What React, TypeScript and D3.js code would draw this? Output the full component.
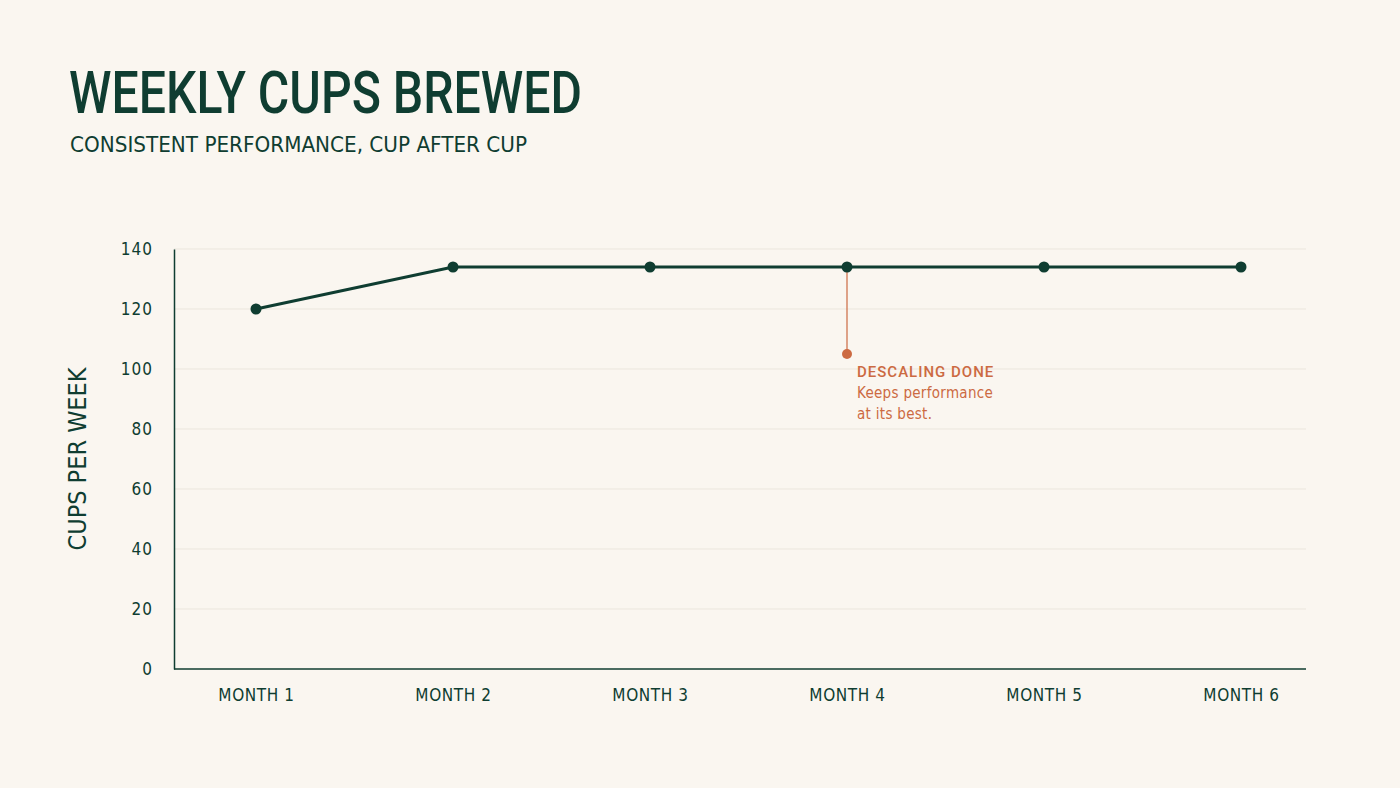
import React, { useEffect, useRef } from 'react';
import * as d3 from 'd3';

const months = ['MONTH 1', 'MONTH 2', 'MONTH 3', 'MONTH 4', 'MONTH 5', 'MONTH 6'];
const cups = [120, 134, 134, 134, 134, 134];
const yTicks = [0, 20, 40, 60, 80, 100, 120, 140];
const note = { month: 'MONTH 4', value: 105, title: 'DESCALING DONE', lines: ['Keeps performance', 'at its best.'] };

const INK = '#0f3d31';
const ACCENT = '#cc6a42';
const BG = '#faf6f0';
const FONT = "'DejaVu Sans Condensed', 'Roboto', sans-serif";
const HEAD = "'Roboto', 'DejaVu Sans Condensed', sans-serif";

const App: React.FC = () => {
  const ref = useRef<SVGSVGElement | null>(null);

  useEffect(() => {
    if (!ref.current) return;
    const W = 1400, H = 788;
    const margin = { top: 249, right: 94, bottom: 119, left: 174 };
    const width = W - margin.left - margin.right;
    const height = H - margin.top - margin.bottom;

    document.body.style.background = BG;
    const root = d3.select(ref.current);
    root.selectAll('*').remove();
    root.attr('width', W).attr('height', H)
      .style('position', 'absolute').style('left', '0').style('top', '0')
      .style('display', 'block').style('background', BG);

    root.append('text')
      .attr('x', 69).attr('y', 113)
      .attr('fill', INK)
      .attr('textLength', 513)
      .attr('lengthAdjust', 'spacingAndGlyphs')
      .style('font-family', HEAD)
      .style('font-size', '60px')
      .style('font-weight', 500)
      .text('WEEKLY CUPS BREWED');

    root.append('text')
      .attr('x', 70).attr('y', 152)
      .attr('fill', INK)
      .attr('textLength', 457)
      .attr('lengthAdjust', 'spacingAndGlyphs')
      .style('font-family', FONT)
      .style('font-size', '21px')
      .text('CONSISTENT PERFORMANCE, CUP AFTER CUP');

    const g = root.append('g').attr('transform', `translate(${margin.left},${margin.top})`);

    const x = d3.scalePoint<string>().domain(months).range([82, width - 65]);
    const y = d3.scaleLinear().domain([0, 140]).range([height, 0]);

    // grid
    g.selectAll('.grid')
      .data(yTicks.filter(d => d > 0))
      .enter().append('line')
      .attr('x1', 0).attr('x2', width)
      .attr('y1', d => y(d)).attr('y2', d => y(d))
      .attr('stroke', '#ebe6dd')
      .attr('stroke-width', 1);

    // y axis
    const yAxis = g.append('g')
      .call(d3.axisLeft(y).tickValues(yTicks).tickSize(0).tickPadding(21));
    yAxis.select('.domain').attr('stroke', INK).attr('stroke-width', 1.5);
    yAxis.selectAll('text')
      .attr('fill', INK)
      .style('font-family', FONT)
      .style('font-size', '17px')
      .style('letter-spacing', '1px');

    // x axis
    const xAxis = g.append('g')
      .attr('transform', `translate(0,${height})`)
      .call(d3.axisBottom(x).tickSize(0).tickPadding(20));
    xAxis.select('.domain').attr('d', `M0,0H${width}`).attr('stroke', INK).attr('stroke-width', 1.5);
    xAxis.selectAll('text')
      .attr('fill', INK)
      .style('font-family', FONT)
      .style('font-size', '17px')
      .style('letter-spacing', '0.6px');

    root.append('text')
      .attr('transform', `translate(86,${margin.top + height / 2}) rotate(-90)`)
      .attr('text-anchor', 'middle')
      .attr('fill', INK)
      .attr('textLength', 183)
      .attr('lengthAdjust', 'spacingAndGlyphs')
      .style('font-family', FONT)
      .style('font-size', '25px')
      .text('CUPS PER WEEK');

    const data = months.map((m, i) => ({ m, v: cups[i] }));

    // annotation
    const nx = x(note.month) as number;
    const pv = cups[months.indexOf(note.month)];
    g.append('line')
      .attr('x1', nx).attr('x2', nx)
      .attr('y1', y(pv)).attr('y2', y(note.value))
      .attr('stroke', ACCENT).attr('stroke-width', 1.2);
    g.append('circle').attr('cx', nx).attr('cy', y(note.value)).attr('r', 5).attr('fill', ACCENT);
    const t = g.append('text')
      .attr('x', nx + 10).attr('y', y(note.value) + 23)
      .attr('fill', ACCENT)
      .style('font-family', FONT);
    t.append('tspan').attr('x', nx + 10).style('font-family', HEAD).style('font-size', '15px').style('font-weight', 500)
      .style('letter-spacing', '1px').text(note.title);
    note.lines.forEach(l => {
      t.append('tspan').attr('x', nx + 10).attr('dy', 21).style('font-size', '15px').style('letter-spacing', '0.3px').text(l);
    });

    const line = d3.line<{ m: string; v: number }>()
      .x(d => x(d.m) as number)
      .y(d => y(d.v));

    g.append('path')
      .datum(data)
      .attr('fill', 'none')
      .attr('stroke', INK)
      .attr('stroke-width', 3)
      .attr('d', line);

    g.selectAll('.dot')
      .data(data)
      .enter().append('circle')
      .attr('cx', d => x(d.m) as number)
      .attr('cy', d => y(d.v))
      .attr('r', 5.5)
      .attr('fill', INK);
  }, []);

  return <svg ref={ref}></svg>;
};

export default App;
